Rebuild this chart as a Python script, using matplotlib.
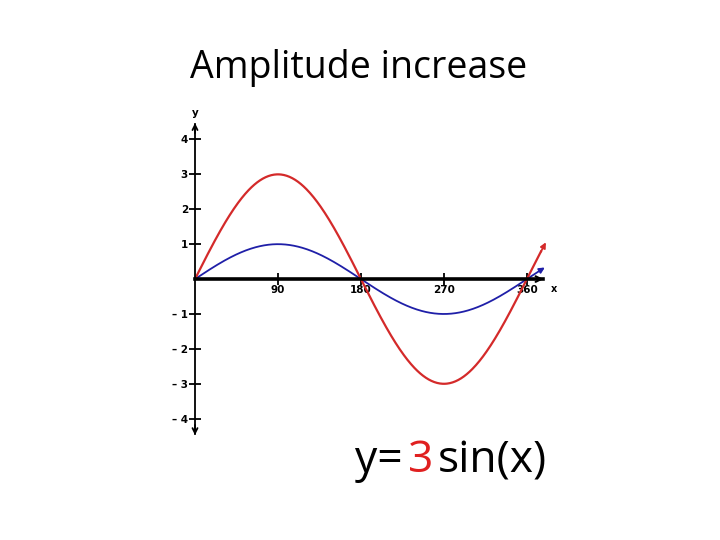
import numpy as np
import matplotlib
matplotlib.use("Agg")
import matplotlib.pyplot as plt

# data
amplitudes = [1, 3]
colors = ["#1f1fa8", "#d42a2a"]
x_end = 382
x_ticks = [90, 180, 270, 360]
y_ticks = [-4, -3, -2, -1, 1, 2, 3, 4]
y_tick_labels = ["\u2013 4", "\u2013 3", "\u2013 2", "\u2013 1", "1", "2", "3", "4"]

fig = plt.figure(figsize=(7.2, 5.4), dpi=100)
ax = fig.add_axes([160/720, 1-440/540, 400/720, 340/540])
ax.set_xlim(-37.96, 395.9)
ax.set_ylim(-4.61, 5.13)

for s in ["top", "right"]:
    ax.spines[s].set_visible(False)
ax.spines["left"].set_position(("data", 0))
ax.spines["bottom"].set_position(("data", 0))
ax.spines["left"].set_bounds(-4.45, 4.45)
ax.spines["bottom"].set_bounds(0, 378)
ax.spines["left"].set_linewidth(1.3)
ax.spines["bottom"].set_linewidth(2.6)

ax.set_xticks(x_ticks)
ax.set_xticklabels([str(t) for t in x_ticks], fontsize=7.5, fontweight="bold")
ax.set_yticks(y_ticks)
ax.set_yticklabels(y_tick_labels, fontsize=7.5, fontweight="bold")
ax.tick_params(axis="x", direction="inout", length=8, width=1.3, pad=0)
ax.tick_params(axis="y", direction="inout", length=8, width=1.3, pad=1)

# axis arrows
ax.annotate("", xy=(0, 4.55), xytext=(0, 4.1),
            arrowprops=dict(arrowstyle="->", lw=1.3, color="black", mutation_scale=9))
ax.annotate("", xy=(0, -4.55), xytext=(0, -4.1),
            arrowprops=dict(arrowstyle="->", lw=1.3, color="black", mutation_scale=9))
ax.annotate("", xy=(381, 0), xytext=(360, 0),
            arrowprops=dict(arrowstyle="->", lw=1.5, color="black", mutation_scale=10))
ax.text(0, 4.75, "y", ha="center", va="center", fontsize=7.5, fontweight="bold")
ax.text(389, -0.28, "x", ha="center", va="center", fontsize=7, fontweight="bold")

xs = np.linspace(0, x_end, 500)
for a, c in zip(amplitudes, colors):
    ys = a * np.sin(np.radians(xs))
    ax.plot(xs[:-8], ys[:-8], color=c, lw=1.6 if a == 3 else 1.3, solid_capstyle="butt")
    ax.annotate("", xy=(xs[-1], ys[-1]), xytext=(xs[-12], ys[-12]),
                arrowprops=dict(arrowstyle="-|>", lw=1.3, color=c, mutation_scale=8))

fig.text(359/720, 1-68/540, "Amplitude increase", ha="center", va="center",
         fontsize=27, family="Open Sans")

# bottom equation
fig.canvas.draw()
r = fig.canvas.get_renderer()
parts = [("y=", "black"), ("3", "#e02020"), ("sin(x)", "black")]
xpos = 355/720
ypos = 1-472/540
for txt, col in parts:
    t = fig.text(xpos, ypos, txt, ha="left", va="baseline", fontsize=32,
                 family="Open Sans", color=col)
    bb = t.get_window_extent(renderer=r)
    xpos += bb.width / 720 + 5/720

fig.savefig("out.png", dpi=100)
